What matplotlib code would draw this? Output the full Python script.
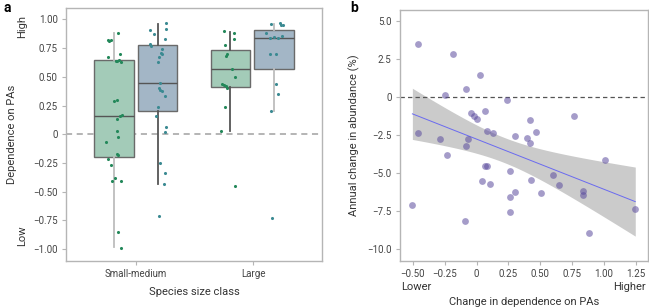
import numpy as np
import matplotlib
matplotlib.use("Agg")
import matplotlib.pyplot as plt

plt.rcParams['font.family'] = ['Roboto', 'DejaVu Sans']

# ---- panel a: dependence on PAs by species size class ----
categories = ["Small-medium", "Large"]

green_sm = [0.88, 0.82, 0.81, 0.82, 0.67, 0.70, 0.64, 0.65, 0.63, 0.64, 0.29, 0.30,
            0.17, 0.16, 0.13, 0.03, -0.02, -0.07, -0.17, -0.18, -0.22, -0.27, -0.38,
            -0.41, -0.41, -0.85, -0.99]
blue_sm = [0.97, 0.92, 0.91, 0.87, 0.83, 0.79, 0.77, 0.74, 0.71, 0.70, 0.67, 0.63,
           0.446, 0.40, 0.385, 0.376, 0.33, 0.24, 0.16, 0.064, 0.015, -0.25, -0.34,
           -0.43, -0.71]
green_lg = [0.90, 0.88, 0.83, 0.78, 0.685, 0.695, 0.566, 0.496, 0.435, 0.426, 0.42,
            0.40, 0.236, 0.024, -0.455]
blue_lg = [0.96, 0.97, 0.95, 0.95, 0.88, 0.84, 0.846, 0.837, 0.855, 0.70, 0.70,
           0.437, 0.35, 0.204, -0.73]

# box stats: (q1, median, q3, whislo, whishi)
box_green_sm = (-0.198, 0.155, 0.65, -0.986, 0.88)
box_blue_sm = (0.20, 0.449, 0.776, -0.43, 0.96)
box_green_lg = (0.41, 0.569, 0.738, 0.024, 0.895)
box_blue_lg = (0.569, 0.84, 0.91, 0.204, 0.96)

# horizontal jitter of the dots (px offsets from box centre, as drawn)
jit_green_sm = [4, -6, -5, -3, -6, 6, 2, 5, 7, 3, 0, 3, 8, 6, 3, 3, 4, -8, 3, 4, -6, -3, 1, -2, 7, 4, 7]
jit_blue_sm = [8, 8, -8, -4, 7, -8, -7, 4, 3, 4, 1, 0, 2, 1, 2, 4, 7, 0, -2, 8, 7, 2, 7, 6, 1]
jit_green_lg = [-6, 4, 4, -5, -4, -3, 2, 5, -8, -6, -4, -3, -5, -9, 5]
jit_blue_lg = [-3, 6, 7, 9, -8, -4, 0, 4, 8, -4, 2, 2, 4, -3, -2]

# ---- panel b: change in dependence vs annual change in abundance ----
dep_change = [-0.456, -0.184, 0.03, -0.08, -0.247, 0.236, 0.067, -0.043, -0.022, 0.0,
              0.422, 0.767, -0.458, 0.08, 0.13, 0.47, 0.30, 0.393, 0.419, -0.286,
              -0.064, -0.084, -0.234, 1.005, 0.065, 0.085, 0.265, 0.043, 0.103, 0.424,
              0.60, 0.644, 0.304, 0.263, 0.508, 0.835, 0.837, 1.245, -0.503, 0.263,
              -0.087, 0.884]
abund_change = [3.46, 2.83, 1.46, 0.54, 0.15, -0.2, -0.89, -1.04, -1.24, -1.41,
                -1.52, -1.24, -2.35, -2.24, -2.35, -2.28, -2.57, -2.67, -3.0, -2.76,
                -2.78, -3.2, -3.82, -4.15, -4.54, -4.54, -4.89, -5.5, -5.7, -5.46,
                -5.13, -5.77, -6.25, -6.54, -6.27, -6.18, -6.43, -7.37, -7.08, -7.52,
                -8.11, -8.9]

fig = plt.figure(figsize=(6.49, 3.08), dpi=100)
ax1 = fig.add_axes([66/649, 47/308, 256/649, 253/308])
ax2 = fig.add_axes([400/649, 47/308, 248/649, 251/308])

spine_col = "#b5b5b5"
tick_col = "#444444"
label_col = "#333333"
px_per_unit = 117.0

green_fill, blue_fill = "#a3cbb8", "#a3b6c6"
green_dot, blue_dot = "#23885a", "#3b8a92"
edge = "#6a6a6a"

groups = [
    (box_green_sm, green_sm, jit_green_sm, -0.19, green_fill, green_dot, "#bdbdbd"),
    (box_blue_sm, blue_sm, jit_blue_sm, 0.185, blue_fill, blue_dot, "#555555"),
    (box_green_lg, green_lg, jit_green_lg, 0.805, green_fill, green_dot, "#555555"),
    (box_blue_lg, blue_lg, jit_blue_lg, 1.18, blue_fill, blue_dot, "#bdbdbd"),
]

ax1.axhline(0, color="#a0a0a0", lw=1.1, ls=(0, (4, 3)), zorder=1)
for stats, vals, jit, pos, fill, dotc, whisc in groups:
    q1, med, q3, lo, hi = stats
    bxp = [dict(q1=q1, med=med, q3=q3, whislo=lo, whishi=hi, fliers=[])]
    ax1.bxp(bxp, positions=[pos], widths=0.335, patch_artist=True, showcaps=False,
            boxprops=dict(facecolor=fill, edgecolor=edge, lw=1.0),
            medianprops=dict(color="#555555", lw=1.0),
            whiskerprops=dict(color=whisc, lw=1.3), manage_ticks=False, zorder=2)
    xs = pos + np.array(jit) / px_per_unit
    ax1.scatter(xs, vals, s=5, color=dotc, lw=0, zorder=4)

ax1.set_xlim(-0.6, 1.59)
ax1.set_ylim(-1.105, 1.1)
ax1.set_xticks([0, 1])
ax1.set_xticklabels(categories)
ax1.set_yticks([1.0, 0.75, 0.5, 0.25, 0, -0.25, -0.5, -0.75, -1.0])
ax1.set_yticklabels(["1.00", "0.75", "0.50", "0.25", "0", "\u22120.25", "\u22120.50",
                     "\u22120.75", "\u22121.00"])
ax1.set_xlabel("Species size class", fontsize=8, color=label_col)
ax1.xaxis.set_label_coords(0.5, -0.103)
ax1.set_ylabel("Dependence on PAs", fontsize=8, color=label_col)
ax1.yaxis.set_label_coords(-0.19, 0.5)
fig.text(22/649, 1 - 26/308, "High", rotation=90, fontsize=8, color=label_col,
         ha="center", va="center")
fig.text(22/649, 1 - 236/308, "Low", rotation=90, fontsize=8, color=label_col,
         ha="center", va="center")

# regression line with 95% confidence band
x = np.array(dep_change)
y = np.array(abund_change)
n = len(x)
slope, intercept = np.polyfit(x, y, 1)
xg = np.linspace(x.min(), x.max(), 100)
yg = intercept + slope * xg
resid = y - (intercept + slope * x)
s_err = np.sqrt(np.sum(resid**2) / (n - 2))
se = s_err * np.sqrt(1/n + (xg - x.mean())**2 / np.sum((x - x.mean())**2))
tval = 2.02
ax2.fill_between(xg, yg - tval*se, yg + tval*se, color="#cbcbcb", lw=0, zorder=1)
ax2.axhline(0, color="#555555", lw=0.9, ls=(0, (3.5, 2.5)), zorder=2)
ax2.plot(xg, yg, color="#6a6af0", lw=0.7, zorder=3)
ax2.scatter(x, y, s=24, color="#5b4c9e", alpha=0.55, lw=0, zorder=4)

ax2.set_xlim(-0.6, 1.345)
ax2.set_ylim(-10.77, 5.72)
ax2.set_xticks([-0.5, -0.25, 0, 0.25, 0.5, 0.75, 1.0, 1.25])
ax2.set_xticklabels(["\u22120.50", "\u22120.25", "0", "0.25", "0.50", "0.75", "1.00", "1.25"])
ax2.set_yticks([5, 2.5, 0, -2.5, -5, -7.5, -10])
ax2.set_yticklabels(["5.0", "2.5", "0", "\u22122.5", "\u22125.0", "\u22127.5", "\u221210.0"])
ax2.set_xlabel("Change in dependence on PAs", fontsize=8, color=label_col)
ax2.xaxis.set_label_coords(0.5, -0.143)
ax2.set_ylabel("Annual change in abundance (%)", fontsize=8, color=label_col)
ax2.yaxis.set_label_coords(-0.161, 0.5)
fig.text(401/649, 1 - 287/308, "Lower", fontsize=8, color=label_col, ha="left", va="center")
fig.text(646/649, 1 - 287/308, "Higher", fontsize=8, color=label_col, ha="right", va="center")

for ax in (ax1, ax2):
    for sp in ax.spines.values():
        sp.set_color(spine_col)
        sp.set_linewidth(1.0)
    ax.tick_params(labelsize=7, colors=tick_col, length=3, width=0.8, color=spine_col, pad=3)

fig.text(3/649, 1 - 8/308, "a", fontsize=10, fontweight="bold", ha="left", va="center")
fig.text(350/649, 1 - 8/308, "b", fontsize=10, fontweight="bold", ha="left", va="center")

fig.savefig("out.png", dpi=100)
